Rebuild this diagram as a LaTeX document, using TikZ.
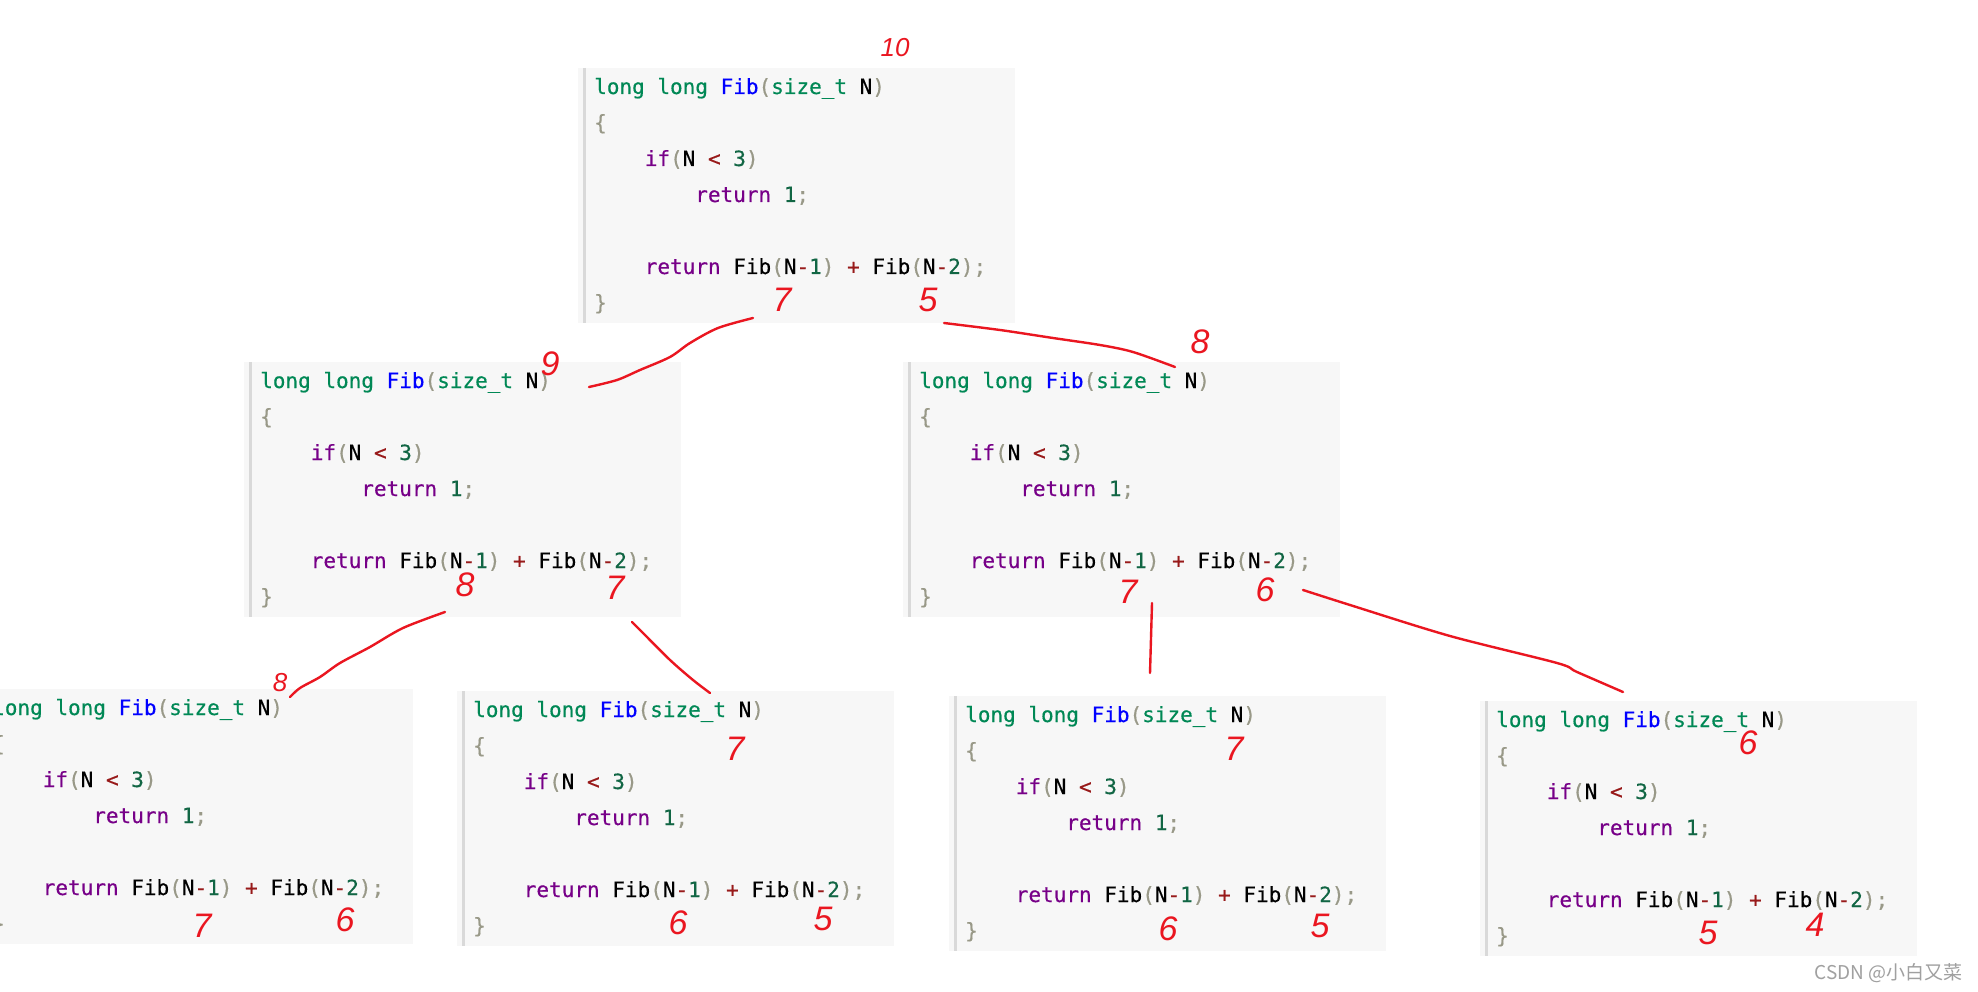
\documentclass[tikz,border=0pt]{standalone}
\usepackage{fontspec}
\usetikzlibrary{calc}
\newfontfamily\codefont[FakeBold=0.4]{DejaVu Sans Mono}
\newfontfamily\handfont{Liberation Sans}
\newfontfamily\cjkfont{Noto Sans CJK SC}
\definecolor{ctype}{HTML}{008855}
\definecolor{ctitle}{HTML}{0000FF}
\definecolor{ckw}{HTML}{770088}
\definecolor{cnum}{HTML}{116644}
\definecolor{cop}{HTML}{981A1A}
\definecolor{cpun}{HTML}{999988}
\definecolor{cbg}{HTML}{F7F7F7}
\definecolor{cbar}{HTML}{D9D9D9}
\definecolor{hred}{HTML}{EA1620}
\definecolor{wm}{HTML}{A0A0A0}
\newcommand\cT[1]{\textcolor{ctype}{#1}}
\newcommand\cF[1]{\textcolor{ctitle}{#1}}
\newcommand\cK[1]{\textcolor{ckw}{#1}}
\newcommand\cN[1]{\textcolor{cnum}{#1}}
\newcommand\cO[1]{\textcolor{cop}{#1}}
\newcommand\cP[1]{\textcolor{cpun}{#1}}
\tikzset{
  codebg/.style={rectangle, anchor=north west, minimum width=437pt, minimum height=255pt, inner sep=0pt, fill=cbg, draw=none},
  codebar/.style={draw=cbar, line width=3pt},
  codeline/.style={anchor=base west, inner sep=0pt, text=black, font=\codefont\fontsize{21}{21}\selectfont},
  hand/.style={text=hred, inner sep=0pt, font=\handfont\itshape\fontsize{34}{34}\selectfont},
  handsmall/.style={hand, font=\handfont\itshape\fontsize{26}{26}\selectfont},
  redline/.style={draw=hred, line width=2.4pt, line cap=round, line join=round},
}
\newcommand\codebox[3]{%
  \node[codebg] (#1) at (#2,#3) {};
  \draw[codebar] ($(#1.north west)+(6.5,0)$) -- ($(#1.south west)+(6.5,0)$);
  \node[codeline] (#1l1) at ($(#1.north west)+(16,26)$) {\cT{long long} \cF{Fib}\cP{(}\cT{size\_t} N\cP{)}};
  \node[codeline] (#1l2) at ($(#1.north west)+(16,62)$) {\cP{\{}};
  \node[codeline] (#1l3) at ($(#1.north west)+(66.6,98)$) {\cK{if}\cP{(}N \cO{<} \cN{3}\cP{)}};
  \node[codeline] (#1l4) at ($(#1.north west)+(117.1,134)$) {\cK{return} \cN{1}\cP{;}};
  \node[codeline] (#1l6) at ($(#1.north west)+(66.6,206)$) {\cK{return} Fib\cP{(}N\cO{-}\cN{1}\cP{)} \cO{+} Fib\cP{(}N\cO{-}\cN{2}\cP{)}\cP{;}};
  \node[codeline] (#1l7) at ($(#1.north west)+(16,242)$) {\cP{\}}};
}
\begin{document}
\begin{tikzpicture}[x=1pt,y=-1pt]
\useasboundingbox (0,0) rectangle (1978,992);
\clip (0,0) rectangle (1978,992);
\fill[white] (0,0) rectangle (1978,992);

\codebox{b1}{578}{68}
\codebox{b2}{244}{362}
\codebox{b3}{903}{362}
\codebox{b4}{-24}{689}
\codebox{b5}{457}{691}
\codebox{b6}{949}{696}
\codebox{b7}{1480}{701}

% connector end points
\coordinate (a1) at (589,387);  \coordinate (a2) at (753,318);
\coordinate (c1) at (944,323);  \coordinate (c2) at (1175,367);
\coordinate (d1) at (445,612);  \coordinate (d2) at (290,697);
\coordinate (e1) at (632,622);  \coordinate (e2) at (710,693);
\coordinate (f1) at (1152,603); \coordinate (f2) at (1150,673);
\coordinate (g1) at (1303,590); \coordinate (g2) at (1623,692);

\draw[redline] plot[smooth, tension=0.5] coordinates {(a1) (617,380) (640,370) (670,357) (690,343) (718,328) (a2)};
\draw[redline] plot[smooth, tension=0.5] coordinates {(c1) (1000,330) (1053,338) (1100,345) (1133,352) (c2)};
\draw[redline] plot[smooth, tension=0.5] coordinates {(d1) (403,628) (370,647) (340,663) (320,677) (300,688) (d2)};
\draw[redline] plot[smooth, tension=0.5] coordinates {(e1) (643,633) (670,660) (693,680) (e2)};
\draw[redline] (f1) -- (f2);
\draw[redline] plot[smooth, tension=0.5] coordinates {(g1) (1350,605) (1450,636) (1557,663) (1577,672) (g2)};

% handwritten counts
\node[handsmall] (n10) at (895,48) {10};
\node[hand] (n1a) at (782,300) {7};
\node[hand] (n1b) at (928,300) {5};
\node[hand] (n2t) at (550,364) {9};
\node[hand] (n2a) at (465,585) {8};
\node[hand] (n2b) at (615,588) {7};
\node[hand] (n3t) at (1200,342) {8};
\node[hand] (n3a) at (1128,592) {7};
\node[hand] (n3b) at (1265,590) {6};
\node[handsmall] (n4t) at (280,683) {8};
\node[hand] (n4a) at (202,926) {7};
\node[hand] (n4b) at (345,920) {6};
\node[hand] (n5t) at (735,749) {7};
\node[hand] (n5a) at (678,923) {6};
\node[hand] (n5b) at (823,919) {5};
\node[hand] (n6t) at (1234,749) {7};
\node[hand] (n6a) at (1168,929) {6};
\node[hand] (n6b) at (1320,926) {5};
\node[hand] (n7t) at (1748,743) {6};
\node[hand] (n7a) at (1708,933) {5};
\node[hand] (n7b) at (1815,925) {4};

% watermark
\node[anchor=east, inner sep=0pt, text=wm, font=\cjkfont\fontsize{19}{19}\selectfont] (wmk) at (1963,973) {CSDN @小白又菜};
\end{tikzpicture}
\end{document}
